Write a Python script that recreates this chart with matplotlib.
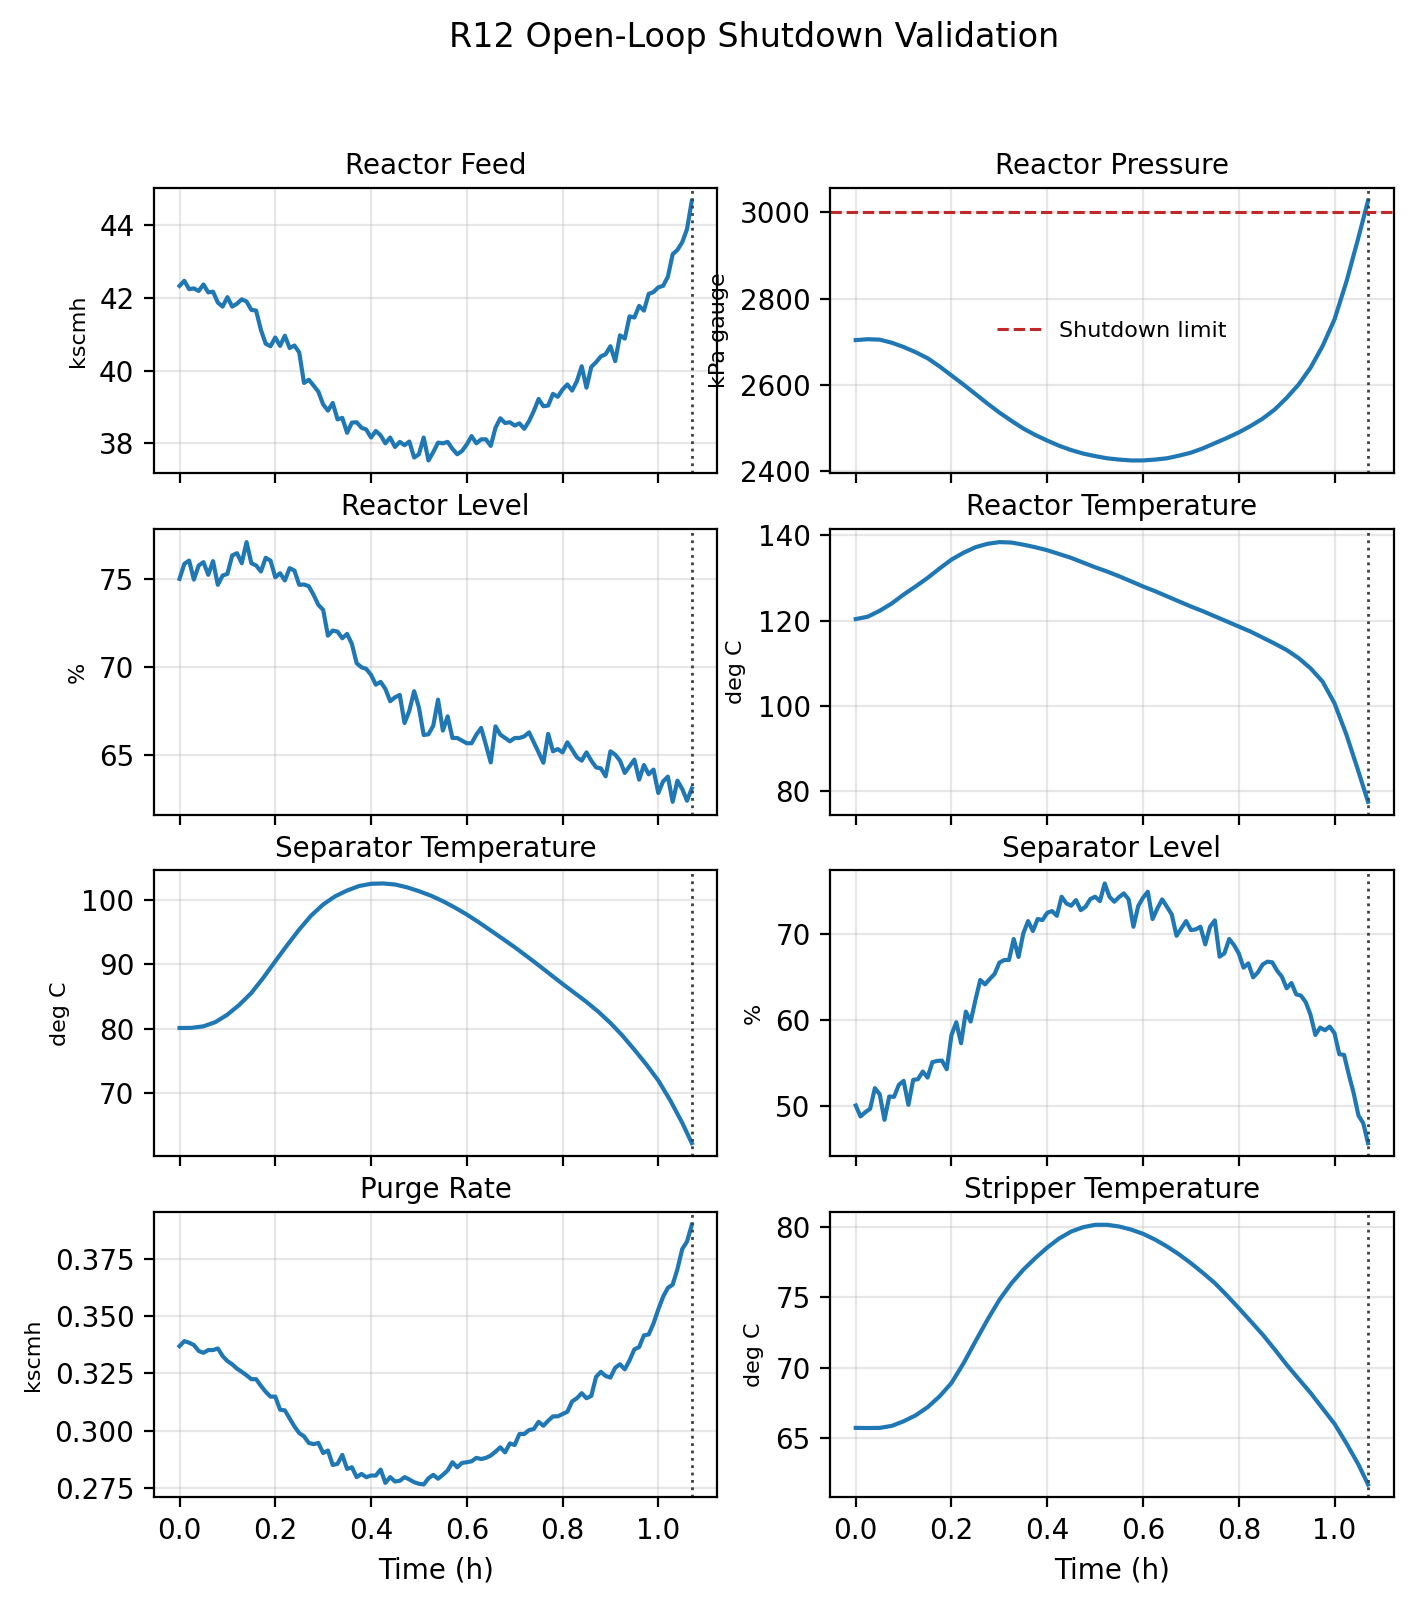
import numpy as np
import matplotlib
matplotlib.use("Agg")
import matplotlib.pyplot as plt

# === DATOS ===
T_END = 1.07
SHUTDOWN_LIMIT = 3000

reactor_feed = [42.33, 42.47, 42.24, 42.26, 42.19, 42.37, 42.15, 42.17, 41.87, 41.76,
                42.02, 41.76, 41.84, 41.96, 41.90, 41.67, 41.65, 41.12, 40.74, 40.67,
                40.91, 40.68, 40.96, 40.62, 40.69, 40.50, 39.66, 39.75, 39.59, 39.42,
                39.07, 38.90, 39.11, 38.66, 38.70, 38.29, 38.57, 38.58, 38.43, 38.38,
                38.16, 38.34, 38.22, 38.00, 38.16, 37.90, 38.04, 37.95, 38.05, 37.61,
                37.70, 38.16, 37.53, 37.76, 38.02, 38.00, 38.04, 37.85, 37.70, 37.79,
                37.97, 38.20, 38.00, 38.11, 38.11, 37.93, 38.43, 38.69, 38.56, 38.58,
                38.49, 38.55, 38.40, 38.61, 38.89, 39.22, 39.02, 39.04, 39.36, 39.28,
                39.48, 39.62, 39.45, 39.71, 40.12, 39.53, 40.10, 40.23, 40.39, 40.45,
                40.67, 40.26, 40.97, 40.88, 41.49, 41.46, 41.78, 41.65, 42.11, 42.16,
                42.29, 42.33, 42.58, 43.20, 43.32, 43.53, 43.89, 44.67]

reactor_level = [75.00, 75.85, 76.04, 74.96, 75.76, 75.95, 75.23, 76.01, 74.66, 75.19,
                 75.28, 76.33, 76.46, 75.89, 77.09, 75.89, 75.76, 75.42, 76.20, 76.04,
                 75.09, 75.32, 74.91, 75.61, 75.47, 74.66, 74.68, 74.58, 74.09, 73.52,
                 73.24, 71.77, 72.06, 72.00, 71.62, 71.87, 71.30, 70.20, 69.97, 69.88,
                 69.54, 68.98, 69.14, 68.74, 68.04, 68.26, 68.40, 66.80, 67.50, 68.61,
                 67.69, 66.12, 66.16, 66.65, 68.13, 66.37, 67.18, 65.95, 65.95, 65.80,
                 65.65, 65.65, 66.14, 66.52, 65.55, 64.56, 66.61, 66.14, 65.95, 65.76,
                 65.95, 65.95, 66.04, 66.27, 65.70, 65.13, 64.54, 66.18, 65.19, 65.32,
                 65.13, 65.70, 65.28, 64.85, 64.66, 65.13, 64.66, 64.28, 64.22, 63.77,
                 65.19, 65.00, 64.66, 63.96, 64.34, 64.72, 63.58, 64.41, 63.88, 64.15,
                 62.82, 63.48, 63.75, 62.32, 63.52, 63.05, 62.38, 63.08]

separator_level = [50.04, 48.76, 49.26, 49.65, 52.06, 51.36, 48.37, 51.09, 51.05, 52.45,
                   52.91, 50.12, 53.03, 53.11, 54.00, 53.30, 55.09, 55.24, 55.28, 54.27,
                   58.27, 59.75, 57.30, 60.99, 59.83, 62.35, 64.68, 64.17, 64.80, 65.38,
                   66.70, 67.01, 67.01, 69.46, 67.36, 70.12, 71.55, 70.39, 71.79, 71.67,
                   72.52, 72.72, 72.17, 74.39, 73.61, 73.34, 74.00, 72.83, 73.22, 74.12,
                   74.39, 73.88, 75.94, 74.39, 73.81, 74.35, 74.78, 74.08, 70.89, 73.30,
                   74.27, 74.97, 71.79, 73.03, 74.08, 73.22, 72.33, 69.84, 70.70, 71.55,
                   70.50, 70.58, 70.89, 68.83, 70.89, 71.63, 67.40, 67.79, 69.46, 68.76,
                   67.79, 66.12, 66.62, 64.99, 65.57, 66.50, 66.82, 66.74, 65.77, 65.07,
                   63.71, 64.33, 63.01, 62.85, 62.08, 60.60, 58.27, 59.13, 58.82, 59.24,
                   58.47, 56.02, 55.94, 53.61, 51.48, 48.87, 47.98, 45.65]

purge_rate = [0.3369, 0.3391, 0.3384, 0.3374, 0.3348, 0.3340, 0.3352, 0.3352, 0.3359, 0.3326,
              0.3304, 0.3290, 0.3271, 0.3257, 0.3242, 0.3225, 0.3225, 0.3196, 0.3170, 0.3149,
              0.3149, 0.3092, 0.3089, 0.3054, 0.3019, 0.2990, 0.2976, 0.2947, 0.2942, 0.2947,
              0.2903, 0.2914, 0.2851, 0.2856, 0.2895, 0.2834, 0.2841, 0.2798, 0.2812, 0.2798,
              0.2805, 0.2805, 0.2831, 0.2773, 0.2798, 0.2779, 0.2782, 0.2798, 0.2788, 0.2776,
              0.2769, 0.2766, 0.2793, 0.2808, 0.2791, 0.2808, 0.2827, 0.2863, 0.2841, 0.2860,
              0.2863, 0.2867, 0.2882, 0.2877, 0.2882, 0.2892, 0.2909, 0.2928, 0.2906, 0.2945,
              0.2938, 0.2986, 0.2986, 0.3003, 0.3008, 0.3039, 0.3022, 0.3044, 0.3063, 0.3063,
              0.3073, 0.3083, 0.3128, 0.3142, 0.3164, 0.3142, 0.3152, 0.3235, 0.3257, 0.3239,
              0.3232, 0.3275, 0.3290, 0.3268, 0.3307, 0.3355, 0.3365, 0.3416, 0.3420, 0.3468,
              0.3529, 0.3584, 0.3623, 0.3637, 0.3705, 0.3792, 0.3825, 0.3898]

# curvas suaves: cada 0.025 h + punto final
t_smooth = [0.000, 0.025, 0.050, 0.075, 0.100, 0.125, 0.150, 0.175, 0.200, 0.225, 0.250,
            0.275, 0.300, 0.325, 0.350, 0.375, 0.400, 0.425, 0.450, 0.475, 0.500, 0.525,
            0.550, 0.575, 0.600, 0.625, 0.650, 0.675, 0.700, 0.725, 0.750, 0.775, 0.800,
            0.825, 0.850, 0.875, 0.900, 0.925, 0.950, 0.975, 1.000, 1.025, 1.050, 1.070]

reactor_pressure = [2704, 2706, 2705, 2698, 2688, 2676, 2662, 2643, 2622, 2601, 2579,
                    2557, 2536, 2517, 2499, 2484, 2471, 2459, 2449, 2441, 2435, 2430,
                    2427, 2425, 2425, 2427, 2430, 2436, 2443, 2453, 2465, 2477, 2490,
                    2505, 2522, 2543, 2570, 2601, 2640, 2690, 2752, 2840, 2942, 3027]

reactor_temp = [120.35, 120.9, 122.3, 124.0, 126.1, 128.0, 130.0, 132.2, 134.3, 135.9, 137.2,
                138.0, 138.4, 138.3, 137.8, 137.2, 136.5, 135.6, 134.7, 133.6, 132.5, 131.5,
                130.4, 129.2, 128.0, 126.9, 125.7, 124.5, 123.3, 122.2, 121.0, 119.8, 118.6,
                117.4, 116.0, 114.6, 113.1, 111.2, 108.8, 105.7, 100.6, 93.2, 84.6, 77.5]

separator_temp = [80.08, 80.1, 80.34, 81.0, 82.16, 83.7, 85.54, 87.9, 90.48, 93.0, 95.42,
                  97.6, 99.32, 100.6, 101.5, 102.2, 102.55, 102.6, 102.44, 102.0, 101.4, 100.7,
                  99.84, 98.85, 97.76, 96.55, 95.27, 93.98, 92.67, 91.28, 89.86, 88.4, 86.95,
                  85.55, 84.14, 82.6, 80.86, 78.9, 76.7, 74.4, 71.9, 68.8, 65.3, 62.14]

stripper_temp = [65.71, 65.7, 65.71, 65.85, 66.18, 66.6, 67.18, 67.95, 68.91, 70.3, 71.87,
                 73.4, 74.83, 76.0, 76.97, 77.8, 78.55, 79.2, 79.69, 80.0, 80.17, 80.17,
                 80.05, 79.83, 79.53, 79.12, 78.63, 78.07, 77.44, 76.75, 76.02, 75.15, 74.24,
                 73.3, 72.35, 71.3, 70.21, 69.2, 68.2, 67.1, 66.0, 64.6, 63.1, 61.68]

panels = [
    ("Reactor Feed", "kscmh", reactor_feed, None),
    ("Reactor Pressure", "kPa gauge", reactor_pressure, t_smooth),
    ("Reactor Level", "%", reactor_level, None),
    ("Reactor Temperature", "deg C", reactor_temp, t_smooth),
    ("Separator Temperature", "deg C", separator_temp, t_smooth),
    ("Separator Level", "%", separator_level, None),
    ("Purge Rate", "kscmh", purge_rate, None),
    ("Stripper Temperature", "deg C", stripper_temp, t_smooth),
]

fig, axes = plt.subplots(4, 2, figsize=(7.06, 8.025), dpi=200, sharex=True,
                         gridspec_kw=dict(left=0.109, right=0.987, top=0.883, bottom=0.067,
                                          hspace=0.195, wspace=0.20))

for ax, (title, unit, vals, tt) in zip(axes.flat, panels):
    if tt is None:
        tt = np.linspace(0, T_END, len(vals))
    ax.plot(tt, vals, color='#1f77b4', linewidth=1.5)
    ax.axvline(T_END, color='0.25', linestyle=':', linewidth=1.0)
    ax.set_title(title, fontsize=10, pad=5)
    ax.set_ylabel(unit, fontsize=8)
    ax.grid(True, alpha=0.3)
    ax.tick_params(labelsize=10)
    if title == "Reactor Pressure":
        ax.axhline(SHUTDOWN_LIMIT, color='#c0282a', linestyle='--', linewidth=1.1, label='Shutdown limit')
        ax.legend(loc='center', frameon=False, fontsize=8)

for ax in axes[-1]:
    ax.set_xlabel("Time (h)", fontsize=10)
axes[0, 0].set_xticks([0.0, 0.2, 0.4, 0.6, 0.8, 1.0])

fig.suptitle("R12 Open-Loop Shutdown Validation", fontsize=12, x=0.534, y=0.987)
plt.savefig("out.png", dpi=200)
plt.close()
print("listo")
